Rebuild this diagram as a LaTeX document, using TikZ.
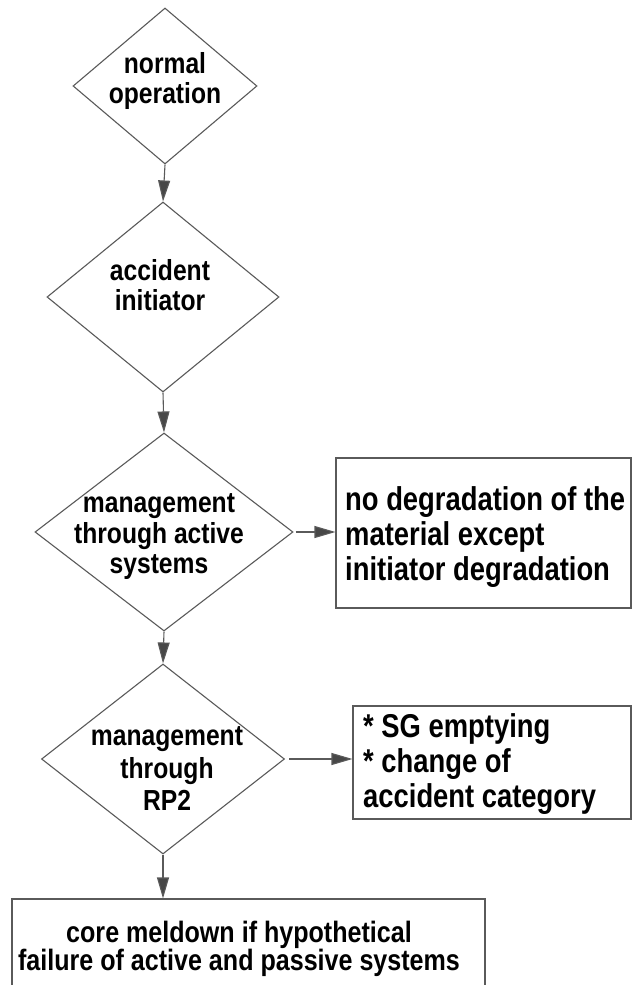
\documentclass[tikz,border=0pt]{standalone}
\usepackage{fontspec}
\setmainfont{Liberation Sans}[FakeStretch=0.85]
\newfontfamily\outcomefont{Liberation Sans}[FakeStretch=0.83]
\usetikzlibrary{shapes.geometric,arrows.meta}

\definecolor{edge}{HTML}{5A5A5A}
\definecolor{tip}{HTML}{474747}

\tikzset{
  decision/.style={diamond, draw=edge, line width=1.1pt, inner sep=0pt, fill=white},
  outcome/.style={rectangle, draw=edge, line width=1.1pt, inner sep=0pt, fill=white},
  dtext/.style={inner sep=0pt, align=center, font=\bfseries\fontsize{29}{30}\selectfont},
  btext/.style={inner sep=0pt, align=left, anchor=west, font=\outcomefont\bfseries\fontsize{33}{35}\selectfont},
  flow/.style={draw=edge, line width=1.1pt, -{Triangle[length=21pt,width=12pt,fill=tip]}},
}

\begin{document}
\begin{tikzpicture}[x=1pt, y=-1pt]
  \useasboundingbox (0,0) rectangle (632,985);

  % decision steps
  \node[decision, minimum width=184pt, minimum height=156pt] (d1) at (165,86) {};
  \node[decision, minimum width=232pt, minimum height=190pt] (d2) at (163,297) {};
  \node[decision, minimum width=258pt, minimum height=198pt] (d3) at (164,532) {};
  \node[decision, minimum width=243pt, minimum height=190pt] (d4) at (163,759) {};

  \node[dtext] (d1t) at (165,81) {normal\\operation};
  \node[dtext] (d2t) at (160,285) {accident\\initiator};
  \node[dtext, font=\bfseries\fontsize{29}{30.5}\selectfont] (d3t) at (159,537) {management\\through active\\systems};
  \node[dtext, font=\bfseries\fontsize{29}{32.5}\selectfont] (d4t) at (167,769) {management\\through\\RP2};

  % outcomes
  \node[outcome, minimum width=295pt, minimum height=150pt] (o1) at (483.5,533) {};
  \node[btext] (o1t) at (345,537) {no degradation of the\\material except\\initiator degradation};

  \node[outcome, minimum width=278pt, minimum height=113pt] (o2) at (492,762.5) {};
  \node[btext] (o2t) at (363,764) {* SG emptying\\* change of\\accident category};

  \node[outcome, minimum width=473pt, minimum height=110pt] (o3) at (248.5,954) {};
  \node[dtext, font=\bfseries\fontsize{29.5}{28}\selectfont] (o3t) at (239,949) {core meldown if hypothetical\\failure of active and passive systems};

  % connectors
  \draw[flow] (d1.south) -- (d2.north);
  \draw[flow] (d2.south) -- (d3.north);
  \draw[flow] (d3.south) -- (d4.north);
  \draw[flow] (d4.south) -- (o3.north -| d4.south);
  \draw[flow] (d3.east) ++(2pt,0) -- (o1.west |- d3.east);
  \draw[flow] (d4.east) ++(4pt,0) -- (o2.west |- d4.east);
\end{tikzpicture}
\end{document}
